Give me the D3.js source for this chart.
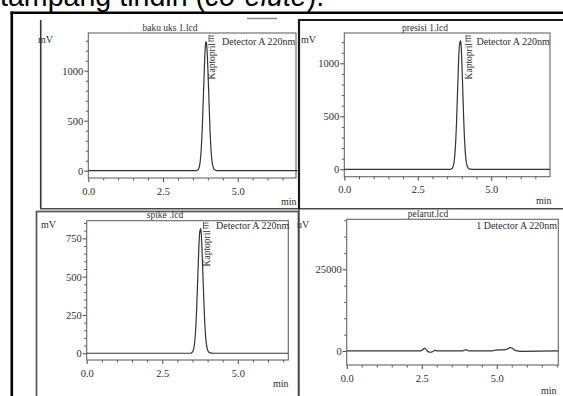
<!DOCTYPE html>
<html><head><meta charset="utf-8">
<script src="https://cdn.jsdelivr.net/npm/d3@7"></script>
<style>
html,body{margin:0;padding:0;background:#fff;overflow:hidden}
svg{display:block}
.ch text{font-family:"Liberation Serif","Times New Roman",serif;fill:#2e2e2e}
</style></head><body>
<svg id="c" width="563" height="396"></svg>
<script>
// ---------------- DATA ----------------
const headingParts = ["tampang tindih (", "co-elute", ")."];
const panelTitles = ["baku uks 1.lcd", "presisi 1.lcd", "spike .lcd", "pelarut.lcd"];
const yUnits = ["mV", "mV", "mV", "uV"];
const detectorLabels = ["Detector A 220nm", "Detector A 220nm", "Detector A 220nm", "1 Detector A 220nm"];
const peakNames = ["Kaptopril", "Kaptopril", "Kaptopril", ""];
const peakTimes = [3.94, 3.94, 3.75, null];
const xTickValues = [0, 2.5, 5.0];
const yTicksBaku = [0, 500, 1000];
const yTicksPresisi = [0, 500, 1000];
const yTicksSpike = [0, 250, 500, 750];
const yTicksPelarut = [0, 25000];
const xUnit = "min";

const bakuTime = [0, 3.60, 3.64, 3.69, 3.74, 3.78, 3.82, 3.86, 3.90, 3.92, 3.94, 3.96, 3.98, 4.02, 4.06, 4.10, 4.14, 4.19, 4.24, 4.30, 4.40, 7.0];
const bakuMV   = [0, 0, 3, 17, 81, 220, 476, 828, 1155, 1255, 1290, 1262, 1170, 860, 510, 240, 95, 25, 6, 1, 0, 0];

const presisiTime = [0, 3.60, 3.64, 3.69, 3.74, 3.78, 3.82, 3.86, 3.90, 3.93, 3.945, 3.96, 3.98, 4.02, 4.06, 4.10, 4.14, 4.19, 4.24, 4.30, 4.40, 7.0];
const presisiMV   = [0, 0, 3, 16, 76, 207, 448, 780, 1090, 1205, 1180, 1215, 1150, 850, 500, 235, 92, 24, 6, 1, 0, 0];

const spikeTime = [0, 3.42, 3.46, 3.51, 3.56, 3.60, 3.64, 3.68, 3.72, 3.745, 3.76, 3.775, 3.80, 3.84, 3.88, 3.92, 3.96, 4.01, 4.06, 4.12, 4.22, 6.67];
const spikeMV   = [0, 0, 2, 11, 51, 139, 301, 523, 730, 805, 790, 815, 745, 540, 320, 150, 60, 16, 4, 1, 0, 0];

const pelarutTime = [0, 2.45, 2.55, 2.60, 2.65, 2.72, 2.80, 2.90, 2.95, 3.00, 3.10, 3.85, 3.95, 4.00, 4.08, 4.85, 4.95, 5.25, 5.35, 5.45, 5.50, 5.58, 5.68, 5.80, 7.05];
const pelarutUV   = [0, 0, 500, 900, 400, -300, -400, 0, 250, 0, 0, 0, 300, 300, 0, 0, 250, 350, 600, 1000, 900, 400, 0, -100, 0];

// ---------------- LAYOUT ----------------
const layout = [
  {fx0: 88.3, fx1: 296, fy0: 33, fy1: 178, xd: [0, 6.95], yd: [-73, 1377], yMinor: 100,
   titleX: 170, titleY: 31, unitX: 38, unitY: 43, detX: 222, detY: 45, detAnchor: "start",
   minX: 281, minY: 205, labDx: 9, labTop: 43},
  {fx0: 344.3, fx1: 550, fy0: 33, fy1: 176.7, xd: [0, 7.0], yd: [-70, 1286], yMinor: 100,
   titleX: 425, titleY: 31, unitX: 301, unitY: 43, detX: 476.5, detY: 45, detAnchor: "start",
   minX: 536, minY: 204, labDx: 12, labTop: 43},
  {fx0: 86.7, fx1: 288.3, fy0: 220.7, fy1: 360, xd: [0, 6.67], yd: [-44, 865], yMinor: 50,
   titleX: 165, titleY: 218, unitX: 41, unitY: 228, detX: 216, detY: 229, detAnchor: "start",
   minX: 273, minY: 387, labDx: 9.5, labTop: 230},
  {fx0: 346.7, fx1: 558.3, fy0: 219.3, fy1: 365, xd: [0, 7.05], yd: [-4300, 40300], yMinor: 5000,
   titleX: 428, titleY: 217, unitX: 297, unitY: 228, detX: 557, detY: 229, detAnchor: "end",
   minX: 541, minY: 394, labDx: 0, labTop: 0}
];

const series = [
  [bakuTime, bakuMV, yTicksBaku],
  [presisiTime, presisiMV, yTicksPresisi],
  [spikeTime, spikeMV, yTicksSpike],
  [pelarutTime, pelarutUV, yTicksPelarut]
];

const svg = d3.select("#c");

// heading text (cropped slide title)
const head = svg.append("text").attr("x", 0).attr("y", 6)
  .style("font-family", "'Liberation Sans', Arial, sans-serif").style("font-size", "28.6px").attr("fill", "#000");
head.append("tspan").text(headingParts[0]);
head.append("tspan").style("font-style", "italic").text(headingParts[1]);
head.append("tspan").text(headingParts[2]);

// ghost fragment near top
svg.append("line").attr("x1", 247).attr("x2", 277).attr("y1", 18.5).attr("y2", 18.5)
  .attr("stroke", "#888").attr("stroke-width", 1.5);

function drawPanel(i) {
  const c = layout[i];
  const [tt, vv, yTicks] = series[i];
  const g = svg.append("g").attr("class", "ch");
  const x = d3.scaleLinear().domain(c.xd).range([c.fx0, c.fx1]);
  const y = d3.scaleLinear().domain(c.yd).range([c.fy1, c.fy0]);

  g.append("text").attr("x", c.titleX).attr("y", c.titleY).attr("text-anchor", "middle")
    .style("font-size", "9.5px").text(panelTitles[i]);

  const yMinorVals = d3.range(0, c.yd[1], c.yMinor).filter(v => !yTicks.includes(v));
  g.append("g").attr("transform", `translate(${c.fx0},0)`)
    .call(d3.axisLeft(y).tickValues(yMinorVals).tickSize(2.5).tickFormat(""))
    .call(a => a.select(".domain").remove())
    .call(a => a.selectAll("line").attr("stroke", "#555"));
  g.append("g").attr("transform", `translate(${c.fx0},0)`)
    .call(d3.axisLeft(y).tickValues(yTicks).tickSize(4).tickPadding(1).tickFormat(d3.format("d")))
    .call(a => a.select(".domain").remove())
    .call(a => a.selectAll("line").attr("stroke", "#444"))
    .call(a => a.selectAll("text").style("font-size", "10.5px").attr("fill", "#2e2e2e")
      .style("font-family", "'Liberation Serif',serif"));

  const xMinorVals = d3.range(0, c.xd[1], 0.5).filter(v => !xTickValues.includes(v));
  g.append("g").attr("transform", `translate(0,${c.fy1})`)
    .call(d3.axisBottom(x).tickValues(xMinorVals).tickSize(2.5).tickFormat(""))
    .call(a => a.select(".domain").remove())
    .call(a => a.selectAll("line").attr("stroke", "#555"));
  g.append("g").attr("transform", `translate(0,${c.fy1})`)
    .call(d3.axisBottom(x).tickValues(xTickValues).tickSize(4).tickPadding(5.2).tickFormat(d3.format(".1f")))
    .call(a => a.select(".domain").remove())
    .call(a => a.selectAll("line").attr("stroke", "#444"))
    .call(a => a.selectAll("text").style("font-size", "10.5px").attr("fill", "#2e2e2e")
      .style("font-family", "'Liberation Serif',serif"));

  g.append("rect").attr("x", c.fx0).attr("y", c.fy0)
    .attr("width", c.fx1 - c.fx0).attr("height", c.fy1 - c.fy0)
    .attr("fill", "none").attr("stroke", "#666").attr("stroke-width", 1.1);

  const pts = tt.map((t, k) => [t, vv[k]]);
  g.append("path").datum(pts)
    .attr("d", d3.line().x(d => x(d[0])).y(d => y(d[1])).curve(d3.curveMonotoneX))
    .attr("fill", "none").attr("stroke", "#333").attr("stroke-width", 1.2);

  g.append("text").attr("x", c.unitX).attr("y", c.unitY).style("font-size", "10px").text(yUnits[i]);
  g.append("text").attr("x", c.minX).attr("y", c.minY).style("font-size", "10px").text(xUnit);
  g.append("text").attr("x", c.detX).attr("y", c.detY).attr("text-anchor", c.detAnchor)
    .style("font-size", "10px").text(detectorLabels[i]);

  if (peakNames[i]) {
    const px = x(peakTimes[i]) + c.labDx;
    g.append("text").attr("transform", `translate(${px},${c.labTop}) rotate(-90)`)
      .attr("text-anchor", "end").style("font-size", "9.5px").text(peakNames[i]);
    const mk = g.append("g").attr("stroke", "#555").attr("stroke-width", 0.9);
    [-7, -4.5, -2].forEach(dy => mk.append("line").attr("x1", px - 6).attr("x2", px - 1)
      .attr("y1", c.labTop + dy).attr("y2", c.labTop + dy));
    mk.append("line").attr("x1", px - 6).attr("x2", px - 6).attr("y1", c.labTop - 8).attr("y2", c.labTop - 1);
  }
  return g;
}

drawPanel(0);
svg.append("line").attr("x1", 40.7).attr("x2", 40.7).attr("y1", 20).attr("y2", 208.7)
  .attr("stroke", "#333").attr("stroke-width", 1.6);

svg.append("rect").attr("x", 36.5).attr("y", 211.5).attr("width", 262).attr("height", 200)
  .attr("fill", "#fff").attr("stroke", "#555").attr("stroke-width", 1.7);
drawPanel(2);

svg.append("rect").attr("x", 299.5).attr("y", 209).attr("width", 270).attr("height", 200).attr("fill", "#fff");
drawPanel(3);

svg.append("rect").attr("x", 299).attr("y", 20).attr("width", 270).attr("height", 189).attr("fill", "#fff");
drawPanel(1);

svg.append("line").attr("x1", 40).attr("x2", 563).attr("y1", 208.8).attr("y2", 208.8)
  .attr("stroke", "#4a4a4a").attr("stroke-width", 1.4);
svg.append("line").attr("x1", 299).attr("x2", 299).attr("y1", 209).attr("y2", 396)
  .attr("stroke", "#444").attr("stroke-width", 1.4);
svg.append("line").attr("x1", 299).attr("x2", 299).attr("y1", 19).attr("y2", 209)
  .attr("stroke", "#1a1a1a").attr("stroke-width", 2.2);
svg.append("line").attr("x1", 298).attr("x2", 563).attr("y1", 20).attr("y2", 20)
  .attr("stroke", "#1a1a1a").attr("stroke-width", 2.2);

svg.append("line").attr("x1", 10.5).attr("x2", 563).attr("y1", 12.8).attr("y2", 12.8)
  .attr("stroke", "#000").attr("stroke-width", 2.6);
svg.append("line").attr("x1", 11.8).attr("x2", 11.8).attr("y1", 11.5).attr("y2", 396)
  .attr("stroke", "#000").attr("stroke-width", 2.6);
</script>
</body></html>
